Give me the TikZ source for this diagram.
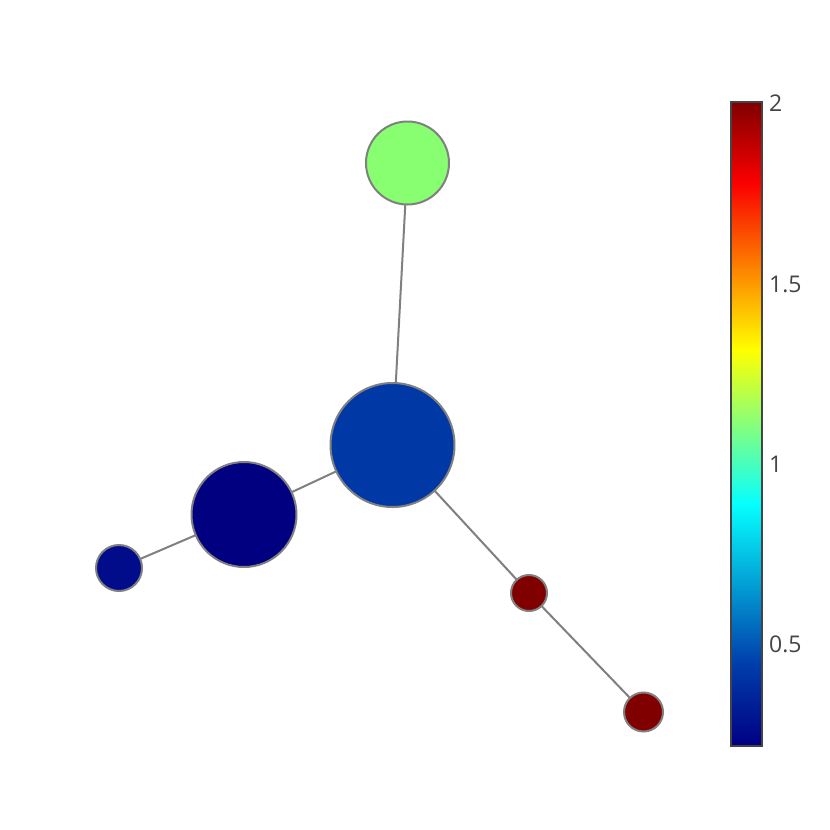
\documentclass[tikz,border=0pt]{standalone}
\usepackage{fontspec}
\setmainfont{Open Sans}
\definecolor{edgegray}{RGB}{128,128,128}
\definecolor{txtgray}{RGB}{68,68,68}
\definecolor{jA}{RGB}{0,0,131}
\definecolor{jB}{RGB}{0,60,170}
\definecolor{jC}{RGB}{5,255,255}
\definecolor{jD}{RGB}{255,255,0}
\definecolor{jE}{RGB}{250,0,0}
\definecolor{jF}{RGB}{128,0,0}
\definecolor{cgreen}{RGB}{136,255,112}
\definecolor{cblue}{RGB}{0,57,166}
\definecolor{cnavy}{RGB}{0,0,128}
\definecolor{cnavyb}{RGB}{0,12,138}
\definecolor{cred}{RGB}{128,0,0}
\begin{document}
\begin{tikzpicture}[x=1pt,y=-1pt,
  vert/.style={circle,draw=edgegray,line width=2pt,inner sep=0pt,outer sep=0pt},
  edge/.style={draw=edgegray,line width=2pt},
  ticklab/.style={anchor=west,text=txtgray,font=\fontsize{23}{23}\selectfont,inner sep=0pt}]
\useasboundingbox (0,0) rectangle (830,830);
\fill[white] (0,0) rectangle (830,830);
% nodes
\node[vert,fill=cgreen,minimum size=83pt] (g) at (407.5,163) {};
\node[vert,fill=cblue,minimum size=124pt] (b) at (392.5,445) {};
\node[vert,fill=cnavy,minimum size=105pt] (n) at (244,514.5) {};
\node[vert,fill=cnavyb,minimum size=46pt] (s) at (119,568) {};
\node[vert,fill=cred,minimum size=36pt] (r) at (529,593) {};
\node[vert,fill=cred,minimum size=39pt] (q) at (643.5,712) {};
% edges
\draw[edge] (g) -- (b);
\draw[edge] (b) -- (n);
\draw[edge] (n) -- (s);
\draw[edge] (b) -- (r);
\draw[edge] (r) -- (q);
% colorbar
\shade[bottom color=jA,top color=jB] (731,746) rectangle (762,665.5);
\shade[bottom color=jB,top color=jC] (731,665.5) rectangle (762,504.5);
\shade[bottom color=jC,top color=jD] (731,504.5) rectangle (762,350);
\shade[bottom color=jD,top color=jE] (731,350) rectangle (762,182.5);
\shade[bottom color=jE,top color=jF] (731,182.5) rectangle (762,102);
\draw[draw=txtgray,line width=2pt] (731,102) rectangle (762,746);
\node[ticklab] (t2) at (769,103) {2};
\node[ticklab] (t15) at (769,284) {1.5};
\node[ticklab] (t1) at (769,464) {1};
\node[ticklab] (t05) at (769,644) {0.5};
\end{tikzpicture}
\end{document}
